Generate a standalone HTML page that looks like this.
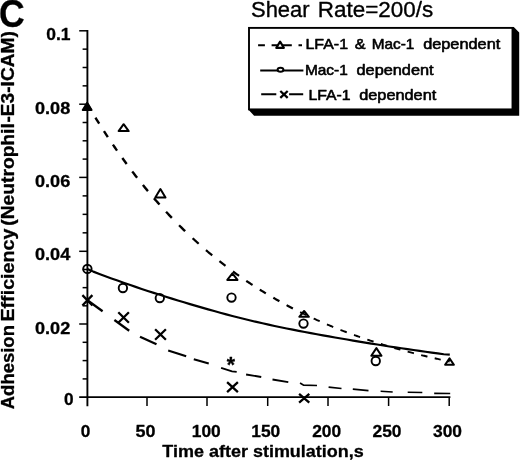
<!DOCTYPE html>
<html><head><meta charset="utf-8"><style>
html,body{margin:0;padding:0;background:#fff;}
body{width:520px;height:461px;overflow:hidden;position:relative;font-family:"Liberation Sans",sans-serif;}
svg{position:absolute;left:0;top:0;display:block;filter:grayscale(100%);}
text{font-family:"Liberation Sans",sans-serif;fill:#000;stroke:#000;stroke-width:0.6px;stroke-linejoin:round;}
.b{font-weight:bold;stroke-width:0.3px;}
</style></head><body>
<svg width="520" height="461" viewBox="0 0 520 461">
<rect width="520" height="461" fill="#fff"/>

<g stroke="#000" fill="none">
<path d="M87.40,30.00 V406.20" stroke-width="1.9"/>
<path d="M79.20,397.20 H450.40" stroke-width="1.7"/>
<g stroke-width="1.5">
<path d="M79.20,324.00 H87.40"/>
<path d="M79.20,251.30 H87.40"/>
<path d="M79.20,177.40 H87.40"/>
<path d="M79.20,104.20 H87.40"/>
<path d="M79.20,30.80 H87.40"/>
<path d="M82.60,378.90 H87.40"/>
<path d="M82.60,360.60 H87.40"/>
<path d="M82.60,342.30 H87.40"/>
<path d="M82.60,305.82 H87.40"/>
<path d="M82.60,287.65 H87.40"/>
<path d="M82.60,269.48 H87.40"/>
<path d="M82.60,232.83 H87.40"/>
<path d="M82.60,214.35 H87.40"/>
<path d="M82.60,195.88 H87.40"/>
<path d="M82.60,159.10 H87.40"/>
<path d="M82.60,140.80 H87.40"/>
<path d="M82.60,122.50 H87.40"/>
<path d="M82.60,85.85 H87.40"/>
<path d="M82.60,67.50 H87.40"/>
<path d="M82.60,49.15 H87.40"/>
<path d="M147.00,397.20 V406.00"/>
<path d="M207.00,397.20 V406.00"/>
<path d="M267.70,397.20 V406.00"/>
<path d="M328.00,397.20 V406.00"/>
<path d="M388.60,397.20 V406.00"/>
<path d="M449.20,397.20 V406.00"/>
</g></g>
<text x="46.30" y="39.50" font-size="17" class="b" textLength="24.30" lengthAdjust="spacingAndGlyphs">0.1</text>
<text x="35.00" y="114.40" font-size="17" class="b" textLength="35.30" lengthAdjust="spacingAndGlyphs">0.08</text>
<text x="35.00" y="186.70" font-size="17" class="b" textLength="35.30" lengthAdjust="spacingAndGlyphs">0.06</text>
<text x="35.00" y="259.80" font-size="17" class="b" textLength="35.30" lengthAdjust="spacingAndGlyphs">0.04</text>
<text x="35.00" y="333.90" font-size="17" class="b" textLength="35.30" lengthAdjust="spacingAndGlyphs">0.02</text>
<text x="63.90" y="405.00" font-size="17" class="b" textLength="9.60" lengthAdjust="spacingAndGlyphs">0</text>
<text x="80.70" y="437.20" font-size="17" class="b" textLength="9.60" lengthAdjust="spacingAndGlyphs">0</text>
<text x="135.60" y="437.20" font-size="17" class="b" textLength="20.00" lengthAdjust="spacingAndGlyphs">50</text>
<text x="191.80" y="437.20" font-size="17" class="b" textLength="29.00" lengthAdjust="spacingAndGlyphs">100</text>
<text x="251.30" y="437.20" font-size="17" class="b" textLength="29.00" lengthAdjust="spacingAndGlyphs">150</text>
<text x="312.20" y="437.20" font-size="17" class="b" textLength="29.00" lengthAdjust="spacingAndGlyphs">200</text>
<text x="372.50" y="437.20" font-size="17" class="b" textLength="29.00" lengthAdjust="spacingAndGlyphs">250</text>
<text x="433.00" y="437.20" font-size="17" class="b" textLength="29.00" lengthAdjust="spacingAndGlyphs">300</text>
<text x="162.30" y="456.60" font-size="17" class="b" textLength="201.50" lengthAdjust="spacingAndGlyphs">Time after stimulation,s</text>
<text class="b" transform="translate(14.20,409.25) rotate(-90)" font-size="17.5" textLength="84.20" lengthAdjust="spacingAndGlyphs">Adhesion</text>
<text class="b" transform="translate(14.20,321.60) rotate(-90)" font-size="17.5" textLength="93.10" lengthAdjust="spacingAndGlyphs">Efficiency</text>
<text class="b" transform="translate(14.20,225.70) rotate(-90)" font-size="17.5" textLength="102.50" lengthAdjust="spacingAndGlyphs">(Neutrophil</text>
<text class="b" transform="translate(14.20,122.50) rotate(-90)" font-size="17.5" textLength="91.30" lengthAdjust="spacingAndGlyphs">-E3-ICAM)</text>
<text x="-0.90" y="27.30" font-size="38" class="b" textLength="25.70" lengthAdjust="spacingAndGlyphs">C</text>
<text x="251.00" y="17.20" font-size="22" textLength="58.60" lengthAdjust="spacingAndGlyphs" style="stroke-width:0.35px">Shear</text>
<text x="317.80" y="17.20" font-size="22" textLength="115.30" lengthAdjust="spacingAndGlyphs" style="stroke-width:0.35px">Rate=200/s</text>
<g stroke="#000" fill="none">
<path d="M87.30,104.08 L87.78,104.90 L88.27,105.72 L88.75,106.54 L89.23,107.35 L89.72,108.17 L90.20,108.98 L90.68,109.79 L90.92,110.19" stroke-width="2.4"/>
<path d="M95.51,117.74 L96.00,118.53 L96.48,119.31 L96.96,120.09 L97.45,120.86 L97.93,121.64 L98.41,122.41 L98.90,123.18 L99.14,123.57" stroke-width="2.4"/>
<path d="M103.97,131.14 L104.45,131.89 L104.94,132.63 L105.42,133.37 L105.90,134.11 L106.38,134.85 L106.87,135.59 L107.35,136.32 L107.83,137.05" stroke-width="2.4"/>
<path d="M112.91,144.61 L113.63,145.67 L114.36,146.73 L115.08,147.78 L115.81,148.83 L116.53,149.87 L117.01,150.57" stroke-width="2.4"/>
<path d="M122.33,158.07 L123.05,159.07 L123.78,160.07 L124.50,161.07 L125.23,162.06 L125.95,163.05 L126.68,164.04" stroke-width="2.4"/>
<path d="M132.23,171.44 L132.96,172.39 L133.68,173.34 L134.41,174.28 L135.13,175.22 L135.86,176.15 L136.58,177.08 L137.07,177.70" stroke-width="2.4"/>
<path d="M142.86,184.97 L143.59,185.86 L144.31,186.75 L145.04,187.63 L145.76,188.51 L146.49,189.39 L147.21,190.26 L147.94,191.13" stroke-width="2.4"/>
<path d="M153.98,198.24 L154.94,199.36 L155.91,200.46 L156.88,201.56 L157.84,202.66 L158.81,203.75 L159.53,204.56" stroke-width="2.4"/>
<path d="M166.06,211.73 L167.02,212.77 L167.99,213.80 L168.95,214.83 L169.92,215.85 L170.89,216.86 L171.85,217.87" stroke-width="2.4"/>
<path d="M179.10,225.27 L180.07,226.23 L181.03,227.19 L182.00,228.14 L182.97,229.09 L183.93,230.03 L184.90,230.97 L185.14,231.20" stroke-width="2.4"/>
<path d="M192.63,238.27 L193.60,239.16 L194.56,240.04 L195.53,240.92 L196.49,241.80 L197.46,242.67 L198.43,243.53 L198.67,243.75" stroke-width="2.2"/>
<path d="M205.92,250.08 L206.88,250.90 L207.85,251.72 L208.82,252.54 L209.78,253.35 L210.75,254.15 L211.71,254.95 L212.20,255.35" stroke-width="2.2"/>
<path d="M219.44,261.20 L220.41,261.96 L221.38,262.72 L222.34,263.47 L223.31,264.22 L224.28,264.97 L225.24,265.71 L225.48,265.89" stroke-width="2.2"/>
<path d="M232.97,271.49 L233.94,272.19 L234.91,272.89 L235.87,273.59 L236.84,274.28 L237.81,274.97 L238.77,275.65 L239.01,275.82" stroke-width="2.2"/>
<path d="M246.26,280.83 L247.23,281.48 L248.19,282.13 L249.16,282.77 L250.13,283.41 L251.09,284.05 L252.06,284.68 L252.54,285.00" stroke-width="2.2"/>
<path d="M259.79,289.63 L260.76,290.23 L261.72,290.83 L262.69,291.42 L263.65,292.02 L264.62,292.60 L265.59,293.19 L265.83,293.34" stroke-width="2.2"/>
<path d="M273.32,297.76 L274.28,298.32 L275.25,298.87 L276.22,299.42 L277.18,299.97 L278.15,300.51 L279.12,301.05 L279.36,301.19" stroke-width="2.2"/>
<path d="M286.60,305.15 L287.57,305.66 L288.54,306.18 L289.50,306.69 L290.47,307.19 L291.44,307.70 L292.40,308.20 L292.89,308.45" stroke-width="2.2"/>
<path d="M300.13,312.11 L301.10,312.59 L302.07,313.06 L303.03,313.53 L304.00,314.00 L304.96,314.46 L305.93,314.93 L306.17,315.04" stroke-width="1.9"/>
<path d="M313.66,318.54 L314.63,318.98 L315.59,319.42 L316.56,319.86 L317.53,320.29 L318.49,320.72 L319.46,321.15 L319.70,321.26" stroke-width="1.9"/>
<path d="M326.95,324.39 L327.92,324.80 L328.88,325.20 L329.85,325.60 L330.81,326.00 L331.78,326.40 L332.75,326.80 L333.23,327.00" stroke-width="1.9"/>
<path d="M340.48,329.89 L341.44,330.27 L342.41,330.64 L343.38,331.02 L344.34,331.39 L345.31,331.76 L346.28,332.12 L346.76,332.31" stroke-width="1.9"/>
<path d="M354.01,334.98 L354.97,335.33 L355.94,335.68 L356.90,336.02 L357.87,336.36 L358.84,336.70 L359.80,337.04 L360.05,337.13" stroke-width="1.9"/>
<path d="M367.29,339.61 L368.26,339.93 L369.23,340.25 L370.19,340.57 L371.16,340.88 L372.12,341.20 L373.09,341.51 L373.57,341.67" stroke-width="1.9"/>
<path d="M380.82,343.96 L381.79,344.26 L382.75,344.55 L383.72,344.85 L384.69,345.14 L385.65,345.43 L386.62,345.72 L387.10,345.87" stroke-width="1.9"/>
<path d="M394.35,347.99 L395.32,348.26 L396.28,348.54 L397.25,348.81 L398.22,349.08 L399.18,349.35 L400.15,349.62 L400.39,349.68" stroke-width="1.9"/>
<path d="M407.64,351.64 L408.60,351.90 L409.57,352.15 L410.54,352.40 L411.50,352.65 L412.47,352.90 L413.43,353.15 L413.92,353.28" stroke-width="1.9"/>
<path d="M421.17,355.09 L422.13,355.32 L423.10,355.56 L424.06,355.79 L425.03,356.02 L426.00,356.25 L426.96,356.48 L427.45,356.60" stroke-width="1.9"/>
<path d="M434.69,358.27 L435.66,358.49 L436.63,358.71 L437.59,358.92 L438.56,359.14 L439.53,359.35 L440.49,359.56 L440.73,359.61" stroke-width="1.9"/>
<path d="M447.98,361.16 L448.22,361.21 L448.46,361.27 L448.71,361.32 L448.95,361.37 L449.19,361.42 L449.43,361.47 L449.67,361.52" stroke-width="1.9"/>
</g>
<path d="M87.40,268.90 L93.34,271.63 L99.38,273.92 L105.42,276.18 L111.47,278.39 L117.51,280.57 L123.55,282.71 L129.59,284.81 L135.63,286.87 L141.67,288.91 L147.72,290.91 L153.76,292.87 L159.80,294.81 L165.84,296.72 L171.88,298.61 L177.92,300.46 L183.96,302.29 L190.01,304.10 L196.05,305.88 L202.09,307.63 L208.13,309.36 L214.17,311.06 L220.21,312.72 L226.26,314.35 L232.30,315.95 L238.34,317.50 L244.38,319.02 L250.42,320.49 L256.46,321.92 L262.50,323.31 L268.55,324.65 L274.59,325.96 L280.63,327.23 L286.67,328.46 L292.71,329.67 L298.75,330.84 L304.80,331.99 L310.84,333.12 L316.88,334.23 L322.92,335.32 L328.96,336.40 L335.00,337.47 L341.04,338.52 L347.09,339.56 L353.13,340.58 L359.17,341.59 L365.21,342.59 L371.25,343.58 L377.29,344.55 L383.34,345.51 L389.38,346.45 L395.42,347.37 L401.46,348.29 L407.50,349.18 L413.54,350.06 L419.58,350.93 L425.63,351.78 L431.67,352.61 L437.71,353.43 L443.75,354.23 L449.80,354.60" stroke="#000" stroke-width="2.15" fill="none" stroke-linejoin="round"/>
<g stroke="#000" fill="none">
<path d="M87.40,300.30 L102.60,311.20" stroke-width="2.3"/>
<path d="M114.40,320.00 L129.20,330.80" stroke-width="2.3"/>
<path d="M140.00,336.80 L156.50,344.30" stroke-width="2.3"/>
<path d="M168.20,350.50 L186.20,356.30" stroke-width="2.1"/>
<path d="M193.80,359.30 L208.75,363.60" stroke-width="2.1"/>
<path d="M221.10,367.80 L232.00,371.40 L236.70,371.90" stroke-width="1.9"/>
<path d="M246.10,374.50 L261.25,377.00" stroke-width="1.9"/>
<path d="M272.50,379.50 L288.30,382.10" stroke-width="1.9"/>
<path d="M300.05,383.00 L303.60,385.20 L317.00,385.50" stroke-width="1.7"/>
<path d="M328.60,387.10 L341.50,388.50" stroke-width="1.7"/>
<path d="M352.80,389.20 L368.50,390.60" stroke-width="1.7"/>
<path d="M380.60,391.20 L392.70,392.00" stroke-width="1.6"/>
<path d="M407.70,392.30 L422.30,392.50" stroke-width="1.6"/>
<path d="M434.20,393.40 L450.20,393.50" stroke-width="1.6"/>
</g>
<path d="M87.17,102.90 L91.60,110.00 L82.75,110.00 Z" stroke="#000" stroke-width="2.0" fill="#000" stroke-linejoin="round"/>
<path d="M123.65,124.20 L128.70,131.10 L118.60,131.10 Z" stroke="#000" stroke-width="2.0" fill="none" stroke-linejoin="round"/>
<path d="M160.40,189.00 L165.50,197.60 L155.30,197.60 Z" stroke="#000" stroke-width="2.0" fill="none" stroke-linejoin="round"/>
<path d="M232.40,273.40 L237.50,279.90 L227.30,279.90 Z" stroke="#000" stroke-width="2.0" fill="none" stroke-linejoin="round"/>
<path d="M304.10,311.00 L308.90,316.80 L299.30,316.80 Z" stroke="#000" stroke-width="2.0" fill="none" stroke-linejoin="round"/>
<path d="M376.40,348.10 L381.50,355.70 L371.30,355.70 Z" stroke="#000" stroke-width="2.0" fill="none" stroke-linejoin="round"/>
<path d="M449.50,358.40 L453.90,364.80 L445.10,364.80 Z" stroke="#000" stroke-width="2.0" fill="none" stroke-linejoin="round"/>
<circle cx="87.40" cy="268.90" r="4.2" stroke="#000" stroke-width="1.9" fill="none"/>
<circle cx="122.90" cy="288.00" r="4.2" stroke="#000" stroke-width="1.9" fill="none"/>
<circle cx="159.80" cy="298.10" r="4.2" stroke="#000" stroke-width="1.9" fill="none"/>
<circle cx="231.50" cy="297.60" r="4.2" stroke="#000" stroke-width="1.9" fill="none"/>
<circle cx="303.50" cy="323.60" r="4.2" stroke="#000" stroke-width="1.9" fill="none"/>
<circle cx="375.75" cy="361.00" r="4.2" stroke="#000" stroke-width="1.9" fill="none"/>
<path d="M82.40,295.10 L92.40,305.50 M82.40,305.50 L92.40,295.10" stroke="#000" stroke-width="2.3" fill="none"/>
<path d="M118.30,312.20 L128.90,322.80 M118.30,322.80 L128.90,312.20" stroke="#000" stroke-width="2.3" fill="none"/>
<path d="M155.10,329.20 L165.90,339.80 M155.10,339.80 L165.90,329.20" stroke="#000" stroke-width="2.3" fill="none"/>
<path d="M227.10,382.10 L237.90,392.10 M227.10,392.10 L237.90,382.10" stroke="#000" stroke-width="2.3" fill="none"/>
<path d="M299.10,393.80 L309.30,402.60 M299.10,402.60 L309.30,393.80" stroke="#000" stroke-width="2.3" fill="none"/>
<text x="230.90" y="372.00" font-size="21.2" class="b" text-anchor="middle">*</text>
<path d="M248.3,109.6 L254.1,115.8 L519.2,115.8 L519.2,32.4 L513.8,27.0 L512,27.0 L512,109 Z" fill="#000"/>
<rect x="249" y="27.9" width="263.5" height="81.5" fill="#fff" stroke="#000" stroke-width="1.9"/>
<text x="305.50" y="49.20" font-size="15" textLength="42.50" lengthAdjust="spacingAndGlyphs">LFA-1</text>
<text x="354.80" y="49.20" font-size="15" textLength="10.80" lengthAdjust="spacingAndGlyphs">&amp;</text>
<text x="371.70" y="49.20" font-size="15" textLength="42.60" lengthAdjust="spacingAndGlyphs">Mac-1</text>
<text x="423.15" y="49.20" font-size="15" textLength="77.15" lengthAdjust="spacingAndGlyphs">dependent</text>
<text x="304.90" y="75.20" font-size="15" textLength="42.90" lengthAdjust="spacingAndGlyphs">Mac-1</text>
<text x="356.50" y="75.20" font-size="15" textLength="77.10" lengthAdjust="spacingAndGlyphs">dependent</text>
<text x="308.40" y="99.90" font-size="15" textLength="42.10" lengthAdjust="spacingAndGlyphs">LFA-1</text>
<text x="359.20" y="99.90" font-size="15" textLength="77.10" lengthAdjust="spacingAndGlyphs">dependent</text>
<path d="M258.1,45.3 H264.9 M271.6,45.3 H291.8 M298.5,45.3 H302" stroke="#000" stroke-width="2"/>
<path d="M280.1,41.6 L283.9,47.9 L276.3,47.9 Z" stroke="#000" stroke-width="2.1" fill="#fff" stroke-linejoin="round"/>
<path d="M260.2,70.4 H303.4" stroke="#000" stroke-width="2"/>
<ellipse cx="280.5" cy="69.8" rx="2.9" ry="2.0" stroke="#000" stroke-width="2" fill="#fff"/>
<path d="M261.2,94.2 H276.3 M289.1,94.2 H303.2" stroke="#000" stroke-width="2"/>
<path d="M280.30,91.00 L287.70,97.80 M280.30,97.80 L287.70,91.00" stroke="#000" stroke-width="2.3" fill="none"/>
</svg></body></html>
